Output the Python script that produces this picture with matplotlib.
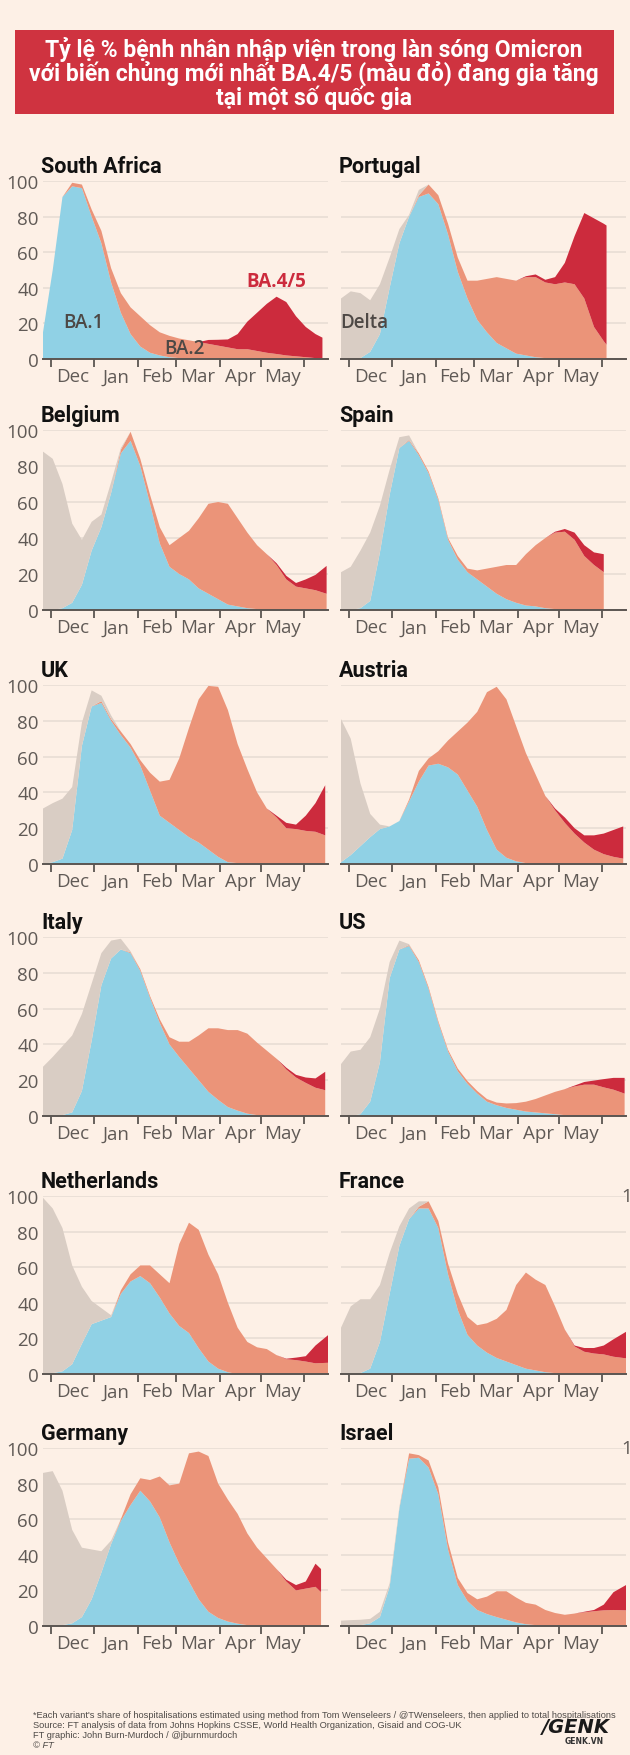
import matplotlib
matplotlib.use('Agg')
import matplotlib.pyplot as plt
from matplotlib import font_manager
from matplotlib.patches import Rectangle

# sample dates, days counted from 1 Dec 2021
week_days = [-6, 1, 8, 15, 22, 29, 36, 43, 50, 57, 64, 71, 78, 85, 92, 99,
             106, 113, 120, 127, 134, 141, 148, 155, 162, 169, 176, 183, 190]
month_starts = [0, 31, 62, 90, 121, 151, 182]
month_mids = [15.5, 46.5, 76, 105.5, 136, 166.5]
month_labels = ['Dec', 'Jan', 'Feb', 'Mar', 'Apr', 'May']

# share of peak hospitalisations by variant (%), stacked BA.1, BA.2, BA.4/5, Delta
south_africa_end = 195
south_africa_ba1 = [15, 50, 91, 97, 96, 80, 65, 43, 26, 14, 7, 3.5, 2, 1, 0.5, 0, 0, 0, 0, 0, 0, 0, 0, 0, 0, 0, 0, 0, 0, 0]
south_africa_ba2 = [0, 0, 0, 2, 2, 4, 7, 8, 11, 15, 17, 15.5, 13, 12, 11, 10.5, 9.5, 8.5, 7.5, 6.5, 5.5, 5.5, 4.5, 3.5, 2.8, 2, 1.5, 1, 0.5, 0.5]
south_africa_ba45 = [0, 0, 0, 0, 0, 0, 0, 0, 0, 0, 0, 0, 0, 0, 0, 0, 0, 2.2, 3.3, 4.5, 8.5, 15.5, 21.5, 27.5, 32.2, 30, 22.5, 17, 13.5, 11.5]
south_africa_delta = [0] * 30

portugal_end = 185
portugal_ba1 = [0, 0, 0.5, 4, 14, 40, 65, 80, 91, 93, 87, 70, 49, 34, 22, 15, 9, 6, 3, 2, 1, 0.5, 0, 0, 0, 0, 0, 0, 0]
portugal_ba2 = [0, 0, 0, 0, 0, 0, 0, 0, 1, 5, 5, 6, 8, 10, 22, 30, 37, 39, 41, 44, 45, 42.5, 42, 43, 42, 34, 18, 10, 8]
portugal_ba45 = [0, 0, 0, 0, 0, 0, 0, 0, 0, 0, 0, 0, 0, 0, 0, 0, 0, 0, 0, 0.5, 1.5, 1.5, 4, 11, 27, 48, 61, 66, 67]
portugal_delta = [34, 38, 36.5, 29, 28, 17, 8, 1, 3, 0, 0, 0, 0, 0, 0, 0, 0, 0, 0, 0, 0, 0, 0, 0, 0, 0, 0, 0, 0]

belgium_end = 198
belgium_ba1 = [0, 0, 1, 4, 14, 33, 46, 65, 87, 94, 80, 59, 37, 24, 20, 17, 12, 9, 6, 3, 2, 1, 0.5, 0, 0, 0, 0, 0, 0, 0]
belgium_ba2 = [0, 0, 0, 0, 0, 0, 0, 0, 2, 5, 4, 5, 9, 12, 20, 27, 39, 50, 54, 56, 49, 42, 35.5, 31, 25, 17, 13, 12, 11, 9]
belgium_ba45 = [0, 0, 0, 0, 0, 0, 0, 0, 0, 0, 0, 0, 0, 0, 0, 0, 0, 0, 0, 0, 0, 0, 0, 0, 1, 2, 2, 5, 8.5, 15.5]
belgium_delta = [88, 84, 69, 44, 25, 16, 7, 6, 1, 0, 0, 0, 0, 0, 0, 0, 0, 0, 0, 0, 0, 0, 0, 0, 0, 0, 0, 0, 0, 0]

spain_end = 183
spain_ba1 = [0, 0, 1, 5, 32, 64, 90, 94, 86, 76, 61, 39, 28, 21, 17, 13, 9, 6, 4, 2.5, 2, 1, 0.5, 0, 0, 0, 0, 0]
spain_ba2 = [0, 0, 0, 0, 0, 0, 0, 0.5, 1, 1, 1, 1, 2, 2, 5, 10, 15, 19, 21, 28.5, 34, 39, 42.5, 43.5, 39, 30, 25, 21]
spain_ba45 = [0, 0, 0, 0, 0, 0, 0, 0, 0, 0, 0, 0, 0, 0, 0, 0, 0, 0, 0, 0, 0, 0, 0.5, 1.5, 4, 6, 7, 10]
spain_delta = [21, 24, 32, 38, 26, 14, 6, 2.5, 0, 0, 0, 0, 0, 0, 0, 0, 0, 0, 0, 0, 0, 0, 0, 0, 0, 0, 0, 0]

uk_end = 197
uk_ba1 = [0, 1, 3, 19, 66, 88, 90, 80, 72, 65, 55, 41, 27, 23, 19, 15, 12, 8, 4, 1, 0.5, 0, 0, 0, 0, 0, 0, 0, 0, 0]
uk_ba2 = [0, 0, 0, 0, 0, 0, 1, 1, 2, 2, 3, 10, 19, 24, 40, 61, 80, 91.5, 95, 85, 66.5, 53, 40, 31, 26, 20, 19.5, 18.5, 18, 16]
uk_ba45 = [0, 0, 0, 0, 0, 0, 0, 0, 0, 0, 0, 0, 0, 0, 0, 0, 0, 0, 0, 0, 0, 0, 0, 0, 1, 3, 2.5, 8.5, 16, 28]
uk_delta = [31, 33, 33.5, 24, 13, 9, 3, 2, 0, 0, 0, 0, 0, 0, 0, 0, 0, 0, 0, 0, 0, 0, 0, 0, 0, 0, 0, 0, 0, 0]

austria_end = 197
austria_ba1 = [1, 5, 10, 15, 19.5, 21, 24, 35, 46, 55, 56, 54, 50, 41, 32, 19, 8, 3.5, 1.5, 0.5, 0, 0, 0, 0, 0, 0, 0, 0, 0, 0]
austria_ba2 = [0, 0, 0, 0, 0, 0, 0, 1, 6, 4, 7, 15, 24, 38, 53, 77, 91, 88.5, 75.5, 61.5, 50, 38, 30, 23, 17, 12, 8, 5.5, 4, 3]
austria_ba45 = [0, 0, 0, 0, 0, 0, 0, 0, 0, 0, 0, 0, 0, 0, 0, 0, 0, 0, 0, 0, 0, 0, 1, 3, 3, 4, 8, 11.5, 15, 18]
austria_delta = [80, 65, 35, 13, 2.5, 0, 0, 0, 0, 0, 0, 0, 0, 0, 0, 0, 0, 0, 0, 0, 0, 0, 0, 0, 0, 0, 0, 0, 0, 0]

italy_end = 197
italy_ba1 = [0, 0, 0.5, 2, 14, 42, 73, 88, 93, 91, 81, 66, 52, 40, 33, 26.5, 20, 13.5, 9, 5, 3, 1.3, 0.5, 0, 0, 0, 0, 0, 0, 0]
italy_ba2 = [0, 0, 0, 0, 0, 0, 0, 0, 0, 0.5, 1, 1, 2, 4, 8.5, 15, 25, 35.5, 40, 43, 45, 44.7, 40.5, 36.5, 32, 26, 21.5, 18.5, 15.8, 14.4]
italy_ba45 = [0, 0, 0, 0, 0, 0, 0, 0, 0, 0, 0, 0, 0, 0, 0, 0, 0, 0, 0, 0, 0, 0, 0, 0, 0, 1, 1.5, 3, 5.2, 10.3]
italy_delta = [27.5, 33, 38.5, 43, 43, 32, 18, 10, 6, 0.5, 0, 0, 0, 0, 0, 0, 0, 0, 0, 0, 0, 0, 0, 0, 0, 0, 0, 0, 0, 0]

us_end = 198
us_ba1 = [0, 0, 1, 8, 30, 77, 93, 95, 86, 71, 52, 36, 25, 18, 12.5, 8, 6, 4.5, 3.5, 2.5, 2, 1.5, 1, 0.5, 0, 0, 0, 0, 0, 0]
us_ba2 = [0, 0, 0, 0, 0, 0, 0, 0.5, 1, 1, 1, 1, 1.5, 1.5, 1.5, 1.5, 1.5, 2.5, 3.7, 5.5, 7.5, 10, 12.5, 14.5, 16.5, 17.5, 17.5, 16, 14.7, 12.5]
us_ba45 = [0, 0, 0, 0, 0, 0, 0, 0, 0, 0, 0, 0, 0, 0, 0, 0, 0, 0, 0, 0, 0, 0, 0, 0, 0.5, 1.5, 2.3, 4.6, 6.6, 8.8]
us_delta = [29, 36, 36, 36, 30, 9, 5, 0.5, 0, 0, 0, 0, 0, 0, 0, 0, 0, 0, 0, 0, 0, 0, 0, 0, 0, 0, 0, 0, 0, 0]

netherlands_end = 199
netherlands_ba1 = [0, 0.5, 1.5, 5.5, 17, 28, 30, 32, 45, 52, 55, 51, 43, 34, 27, 23, 14.5, 7, 3, 1, 0, 0, 0, 0, 0, 0, 0, 0, 0, 0]
netherlands_ba2 = [0, 0, 0, 0, 0, 0, 0, 0, 2, 4, 6, 10, 13, 17, 46, 62, 66.5, 60, 53, 39, 26, 18, 15, 14, 10.6, 8.3, 7.8, 7, 6, 6.3]
netherlands_ba45 = [0, 0, 0, 0, 0, 0, 0, 0, 0, 0, 0, 0, 0, 0, 0, 0, 0, 0, 0, 0, 0, 0, 0, 0, 0, 0.3, 1.4, 3, 10, 15.5]
netherlands_delta = [99, 92.5, 80.5, 55.5, 32, 13, 7, 1, 0, 0, 0, 0, 0, 0, 0, 0, 0, 0, 0, 0, 0, 0, 0, 0, 0, 0, 0, 0, 0, 0]

france_end = 199
france_ba1 = [0, 0, 0.5, 3, 18, 45, 72, 87, 93, 93, 82, 56, 36, 22, 16, 12, 9, 7, 5, 3, 2, 1, 0.5, 0, 0, 0, 0, 0, 0, 0]
france_ba2 = [0, 0, 0, 0, 0, 0, 0, 0, 1, 4, 4, 6, 9, 10, 11.4, 16.5, 22, 29, 45, 54, 51, 49, 37.5, 25, 15.5, 12.5, 11.5, 11, 9.7, 8.8]
france_ba45 = [0, 0, 0, 0, 0, 0, 0, 0, 0, 0, 0, 0, 0, 0, 0, 0, 0, 0, 0, 0, 0, 0, 0, 0, 0.5, 2.1, 3.1, 5, 9.8, 14.9]
france_delta = [26, 38, 41.5, 39, 32, 23, 11, 6, 3, 0, 0, 0, 0, 0, 0, 0, 0, 0, 0, 0, 0, 0, 0, 0, 0, 0, 0, 0, 0, 0]

germany_end = 194
germany_ba1 = [0, 0, 0.5, 1.5, 5, 15, 30, 46, 59, 68, 76, 70, 61, 47, 35, 25, 15, 8, 4.5, 2.5, 1.3, 0.5, 0, 0, 0, 0, 0, 0, 0, 0]
germany_ba2 = [0, 0, 0, 0, 0, 0, 0, 0, 1, 6, 7, 12, 23, 32, 45, 72, 83, 87.5, 75.5, 68.5, 61.7, 51.5, 44, 38, 32, 25, 20, 21, 22, 19]
germany_ba45 = [0, 0, 0, 0, 0, 0, 0, 0, 0, 0, 0, 0, 0, 0, 0, 0, 0, 0, 0, 0, 0, 0, 0, 0, 0, 1, 3, 4, 13, 13]
germany_delta = [86, 87, 75.5, 52.5, 39, 28, 12, 2, 0, 0, 0, 0, 0, 0, 0, 0, 0, 0, 0, 0, 0, 0, 0, 0, 0, 0, 0, 0, 0, 0]

israel_end = 199
israel_ba1 = [0, 0, 0.5, 1.5, 5, 22, 66, 94, 94.5, 89, 74, 43, 23, 14, 9, 6.7, 5, 3.5, 2, 1, 0.5, 0, 0, 0, 0, 0, 0, 0, 0, 0]
israel_ba2 = [0, 0, 0, 0, 0, 0, 0, 3, 1.5, 4, 4, 4, 4, 4.5, 6, 9.8, 14.5, 16, 14, 12, 11.5, 9, 7.3, 6.3, 7, 7.7, 8.3, 8.8, 9, 8.8]
israel_ba45 = [0, 0, 0, 0, 0, 0, 0, 0, 0, 0, 0, 0, 0, 0, 0, 0, 0, 0, 0, 0, 0, 0, 0, 0, 0, 0.3, 0.7, 3.2, 10, 14.2]
israel_delta = [3, 3.3, 3, 2.5, 3, 2, 1, 0, 0, 0, 0, 0, 0, 0, 0, 0, 0, 0, 0, 0, 0, 0, 0, 0, 0, 0, 0, 0, 0, 0]

panels = [
    ('South Africa', south_africa_end, south_africa_ba1, south_africa_ba2, south_africa_ba45, south_africa_delta),
    ('Portugal', portugal_end, portugal_ba1, portugal_ba2, portugal_ba45, portugal_delta),
    ('Belgium', belgium_end, belgium_ba1, belgium_ba2, belgium_ba45, belgium_delta),
    ('Spain', spain_end, spain_ba1, spain_ba2, spain_ba45, spain_delta),
    ('UK', uk_end, uk_ba1, uk_ba2, uk_ba45, uk_delta),
    ('Austria', austria_end, austria_ba1, austria_ba2, austria_ba45, austria_delta),
    ('Italy', italy_end, italy_ba1, italy_ba2, italy_ba45, italy_delta),
    ('US', us_end, us_ba1, us_ba2, us_ba45, us_delta),
    ('Netherlands', netherlands_end, netherlands_ba1, netherlands_ba2, netherlands_ba45, netherlands_delta),
    ('France', france_end, france_ba1, france_ba2, france_ba45, france_delta),
    ('Germany', germany_end, germany_ba1, germany_ba2, germany_ba45, germany_delta),
    ('Israel', israel_end, israel_ba1, israel_ba2, israel_ba45, israel_delta),
]

title_lines = ['Tỷ lệ % bệnh nhân nhập viện trong làn sóng Omicron',
               'với biến chủng mới nhất BA.4/5 (màu đỏ) đang gia tăng',
               'tại một số quốc gia']
footer_lines = [
    "*Each variant's share of hospitalisations estimated using method from Tom Wenseleers / @TWenseleers, then applied to total hospitalisations",
    'Source: FT analysis of data from Johns Hopkins CSSE, World Health Organization, Gisaid and COG-UK',
    'FT graphic: John Burn-Murdoch / @jburnmurdoch',
    '© FT',
]

BG = '#fdf0e6'
C_BA1 = '#90d1e5'
C_BA2 = '#eb9479'
C_BA45 = '#cc2b3d'
C_DELTA = '#d9cdc4'
AXIS = '#5b5551'
GRID = '#e6dcd3'
LABEL = '#605a56'
TICK_FONT = 'Open Sans'

installed = {f.name for f in font_manager.fontManager.ttflist}
if 'Liberation Sans Narrow' in installed:
    foot_font, foot_size = 'Liberation Sans Narrow', 7.6
else:
    foot_font, foot_size = 'Liberation Sans', 6.7

W, H = 630, 1756
fig = plt.figure(figsize=(W / 100, H / 100), dpi=100, facecolor=BG)


def px_box(left, top, width, bottom):
    return [left / W, 1 - bottom / H, width / W, (bottom - top) / H]


row_top = [182, 431, 686, 938, 1197, 1449]
row_bottom = [360, 611, 865, 1117, 1375, 1627]
col_left = [43, 341]
ax_width = 285

# title banner
fig.patches.append(Rectangle((15 / W, 1 - 115 / H), 599 / W, 84 / H,
                             transform=fig.transFigure, facecolor='#cf3340',
                             edgecolor='none'))
for i, line in enumerate(title_lines):
    fig.text(314 / W, 1 - (49 + 24.5 * i) / H, line, ha='center', va='center',
             color='white', fontsize=16.5, fontweight='bold', family='Roboto')

for k, (name, end, ba1, ba2, ba45, delta) in enumerate(panels):
    row, col = divmod(k, 2)
    ax = fig.add_axes(px_box(col_left[col], row_top[row], ax_width, row_bottom[row]))
    ax.set_facecolor('none')
    x = [d for d in week_days if d < end] + [end]
    ax.stackplot(x, ba1, ba2, ba45, delta,
                 colors=[C_BA1, C_BA2, C_BA45, C_DELTA], linewidth=0, zorder=2)
    ax.set_xlim(-6, 199)
    ax.set_ylim(0, 100)
    ax.set_yticks([0, 20, 40, 60, 80, 100])
    ax.grid(axis='y', color=GRID, linewidth=1.1, zorder=0)
    ax.set_axisbelow(True)
    for s in ['top', 'right', 'left']:
        ax.spines[s].set_visible(False)
    ax.spines['bottom'].set_color(AXIS)
    ax.spines['bottom'].set_linewidth(1.4)
    ax.spines['bottom'].set_zorder(3)
    ax.set_xticks(month_starts)
    ax.set_xticklabels([])
    ax.set_xticks(month_mids, minor=True)
    ax.set_xticklabels(month_labels, minor=True, family=TICK_FONT)
    ax.set_yticklabels(['0', '20', '40', '60', '80', '100'], family=TICK_FONT)
    ax.tick_params(axis='x', which='major', length=6, width=1.3, color=AXIS)
    ax.tick_params(axis='x', which='minor', length=0, pad=6, labelsize=13.5,
                   labelcolor=LABEL)
    ax.tick_params(axis='y', length=0, pad=3, labelsize=13.5, labelcolor=LABEL)
    if col == 1:
        ax.tick_params(axis='y', labelleft=False)
    fig.text((col_left[col] - 2) / W, 1 - (row_top[row] - 15) / H, name,
             ha='left', va='center', fontsize=15.5, fontweight='bold',
             color='#111111', family='Roboto')
    if k == 0:
        ax.text(23, 21, 'BA.1', ha='center', va='center', fontsize=13.5,
                color='#4d4845', fontweight='semibold', family=TICK_FONT, zorder=4)
        ax.text(96, 6, 'BA.2', ha='center', va='center', fontsize=13.5,
                color='#4d4845', fontweight='semibold', family=TICK_FONT, zorder=4)
        ax.text(162, 44, 'BA.4/5', ha='center', va='center', fontsize=13.5,
                color=C_BA45, fontweight='bold', family=TICK_FONT, zorder=4)
    if k == 1:
        ax.text(-6.5, 21, 'Delta', ha='left', va='center', fontsize=13.5,
                color='#4d4845', fontweight='semibold', family=TICK_FONT, zorder=4)
    if row >= 4 and col == 1:
        # clipped y label peeking in from the right edge
        fig.text(621 / W, 1 - row_top[row] / H, '100', ha='left', va='center',
                 fontsize=13.5, color=LABEL, family=TICK_FONT)

for i, line in enumerate(footer_lines):
    fig.text(33 / W, 1 - (1716 + 10 * i) / H, line, ha='left', va='center',
             fontsize=foot_size, color='#4e4a47', family=foot_font,
             style='italic' if line.startswith('©') else 'normal')

fig.text(610 / W, 1 - 1728 / H, '/GENK', ha='right', va='center', fontsize=14,
         fontweight='black', style='italic', color='#1a1a1a', family='DejaVu Sans')
fig.text(604 / W, 1 - 1742 / H, 'GENK.VN', ha='right', va='center', fontsize=5.5,
         fontweight='bold', color='#333333')

fig.savefig('out.png', dpi=100, facecolor=BG)
